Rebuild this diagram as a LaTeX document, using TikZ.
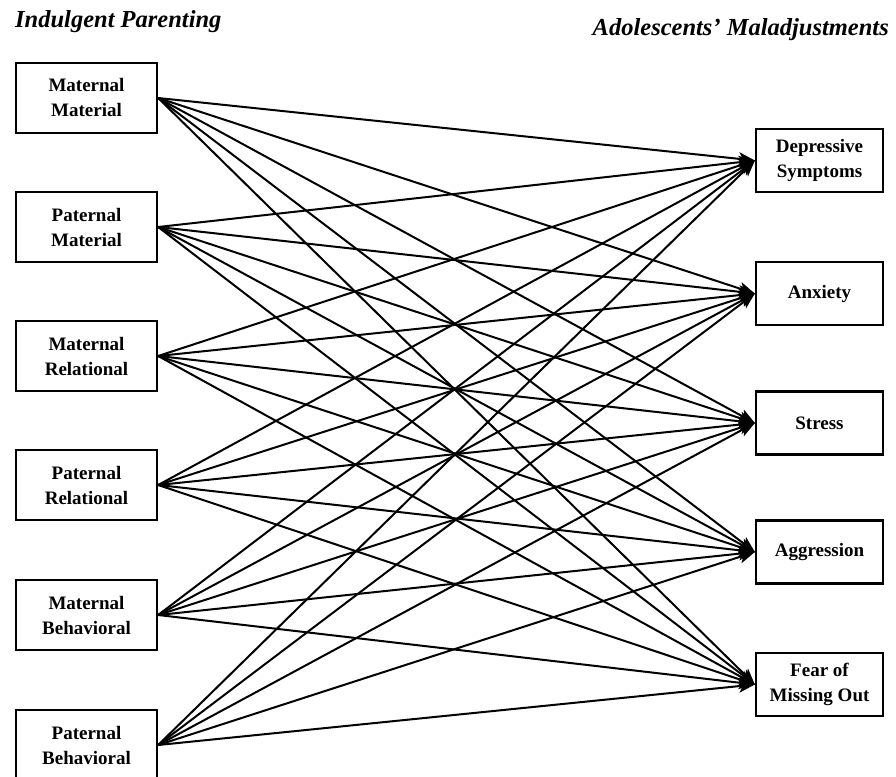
\documentclass[tikz,border=0pt]{standalone}
\usepackage{fontspec}
\setmainfont{Liberation Serif}
\usetikzlibrary{arrows.meta}
\begin{document}
\begin{tikzpicture}[x=1pt,y=-1pt,
  lbox/.style={draw,line width=2.3pt,minimum width=141pt,minimum height=70pt,inner sep=0pt,align=center,font=\fontsize{19}{25}\selectfont\bfseries},
  rbox/.style={draw,line width=2.3pt,minimum width=127pt,minimum height=63pt,inner sep=0pt,align=center,font=\fontsize{19}{25}\selectfont\bfseries},
  arr/.style={line width=2pt,-{Stealth[length=16pt,width=13pt,inset=4pt]}},
  ttl/.style={font=\fontsize{24.5}{28}\selectfont\bfseries\itshape,inner sep=0pt}]
\useasboundingbox (0,0) rectangle (896,776);
\node[ttl,anchor=west] (t1) at (15,22) {Indulgent Parenting};
\node[ttl,anchor=east] (t2) at (889,30) {Adolescents’ Maladjustments};
\node[lbox] (l1) at (86.5,98) {Maternal\\Material};
\node[lbox] (l2) at (86.5,227) {Paternal\\Material};
\node[lbox] (l3) at (86.5,356) {Maternal\\Relational};
\node[lbox] (l4) at (86.5,485) {Paternal\\Relational};
\node[lbox] (l5) at (86.5,615) {Maternal\\Behavioral};
\node[lbox] (l6) at (86.5,745) {Paternal\\Behavioral};
\node[rbox] (r1) at (819.5,160.5) {Depressive\\Symptoms};
\node[rbox] (r2) at (819.5,293.5) {Anxiety};
\node[rbox] (r3) at (819.5,423) {Stress};
\node[rbox] (r4) at (819.5,552) {Aggression};
\node[rbox] (r5) at (819.5,684.5) {Fear of\\Missing Out};
\foreach \i in {1,...,6}{
  \foreach \j in {1,...,5}{
    \draw[arr] (l\i.east) -- (r\j.west);
  }
}
\end{tikzpicture}
\end{document}
